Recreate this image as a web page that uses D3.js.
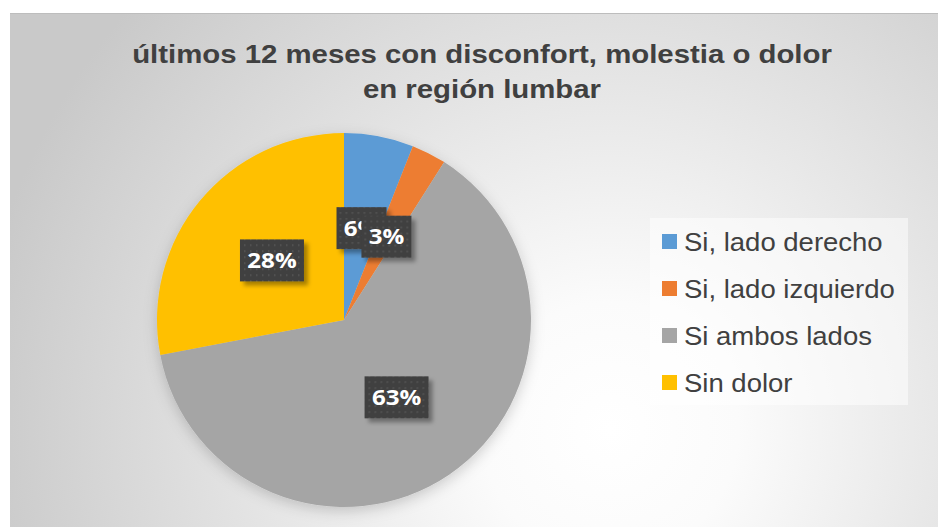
<!DOCTYPE html>
<html lang="es">
<head>
<meta charset="UTF-8">
<script src="https://d3js.org/d3.v7.min.js"></script>
<style>
  body { margin: 0; background: #fff; }
  svg { display: block; }
</style>
</head>
<body>
<svg id="chart" width="938" height="527"></svg>
<script>
// data
var categories = ["Si, lado derecho", "Si, lado izquierdo", "Si ambos lados", "Sin dolor"];
var values = [6, 3, 63, 28];
var colors = ["#5b9bd5", "#ed7d31", "#a5a5a5", "#ffc000"];
var titleLines = ["últimos 12 meses con disconfort, molestia o dolor", "en región lumbar"];

var svg = d3.select("#chart");
var defs = svg.append("defs");

// the original text looks a bit stretched sideways
var stretch = 1.1;

var grad = defs.append("radialGradient")
    .attr("id", "bg").attr("gradientUnits", "userSpaceOnUse")
    .attr("cx", 610).attr("cy", 430).attr("r", 640);
grad.append("stop").attr("offset", "0%").attr("stop-color", "#ffffff");
grad.append("stop").attr("offset", "20%").attr("stop-color", "#fbfbfb");
grad.append("stop").attr("offset", "100%").attr("stop-color", "#c9c9c9");

var sh = defs.append("filter").attr("id", "pieShadow")
    .attr("x", "-20%").attr("y", "-20%").attr("width", "140%").attr("height", "140%");
sh.append("feDropShadow").attr("dx", 0).attr("dy", 4).attr("stdDeviation", 7)
    .attr("flood-color", "#000").attr("flood-opacity", 0.18);

var lsh = defs.append("filter").attr("id", "lblShadow")
    .attr("x", "-30%").attr("y", "-30%").attr("width", "170%").attr("height", "170%");
lsh.append("feDropShadow").attr("dx", 4).attr("dy", 4).attr("stdDeviation", 2)
    .attr("flood-color", "#000").attr("flood-opacity", 0.35);

var pat = defs.append("pattern").attr("id", "dots")
    .attr("patternUnits", "userSpaceOnUse").attr("width", 6).attr("height", 6);
pat.append("rect").attr("width", 6).attr("height", 6).attr("fill", "#404040");
pat.append("rect").attr("x", 2).attr("y", 2).attr("width", 1.5).attr("height", 1.5).attr("fill", "#595959");

// chart area
svg.append("rect")
    .attr("x", 10).attr("y", 13).attr("width", 928).attr("height", 514)
    .attr("fill", "url(#bg)");
svg.append("line")
    .attr("x1", 10).attr("x2", 938).attr("y1", 13.5).attr("y2", 13.5)
    .attr("stroke", "#bdbdbd").attr("stroke-width", 1);

// title
svg.append("g").attr("transform", `translate(482,0) scale(${stretch},1)`)
  .append("text")
    .attr("x", 0).attr("y", 63)
    .attr("text-anchor", "middle")
    .attr("font-family", "Liberation Sans, Arial, sans-serif")
    .attr("font-weight", "bold").attr("font-size", 26.7)
    .attr("fill", "#404040")
    .selectAll("tspan").data(titleLines).enter().append("tspan")
    .attr("x", 0).attr("dy", (d, i) => i ? 35 : 0)
    .text(d => d);

// pie
var cx = 344, cy = 320, r = 187;
var pie = d3.pie().sort(null).value(d => d);
var arc = d3.arc().innerRadius(0).outerRadius(r);
var arcs = pie(values);

var g = svg.append("g").attr("transform", `translate(${cx},${cy})`);
g.append("g").attr("filter", "url(#pieShadow)")
    .selectAll("path").data(arcs).enter().append("path")
    .attr("d", arc)
    .attr("fill", (d, i) => colors[i]);

// labels
var lbl = g.selectAll(".lbl").data(arcs).enter().append("g")
    .attr("class", "lbl")
    .attr("transform", d => {
        var c = arc.centroid(d);
        return `translate(${c[0]},${c[1]})`;
    });
lbl.append("rect")
    .attr("x", d => d.value >= 10 ? -32 : -25).attr("y", -21)
    .attr("width", d => d.value >= 10 ? 64 : 50).attr("height", 42)
    .attr("fill", "url(#dots)")
    .attr("filter", "url(#lblShadow)");
lbl.append("text")
    .attr("text-anchor", "middle").attr("y", 7.5)
    .attr("transform", "scale(1.15,1)")
    .attr("font-family", "Open Sans, Lato, sans-serif")
    .attr("font-weight", "bold").attr("font-size", 21)
    .attr("fill", "#fff")
    .text(d => d.value + "%");

// legend
var lg = svg.append("g");
lg.append("rect")
    .attr("x", 650).attr("y", 218).attr("width", 258).attr("height", 187)
    .attr("fill", "#ffffff").attr("fill-opacity", 0.5);
var item = lg.selectAll(".item").data(categories).enter().append("g")
    .attr("class", "item")
    .attr("transform", (d, i) => `translate(662,${242 + i * 47})`);
item.append("rect")
    .attr("x", 0).attr("y", -8).attr("width", 15).attr("height", 15)
    .attr("fill", (d, i) => colors[i]);
item.append("text")
    .attr("x", 22 / stretch).attr("y", 9)
    .attr("transform", `scale(${stretch},1)`)
    .attr("font-family", "Liberation Sans, Arial, sans-serif")
    .attr("font-size", 25).attr("fill", "#404040")
    .text(d => d);
</script>
</body>
</html>
